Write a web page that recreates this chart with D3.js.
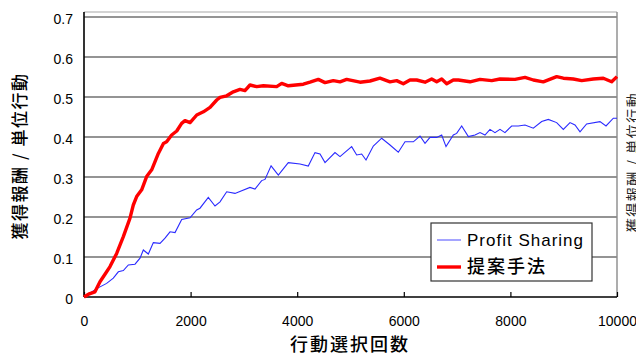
<!DOCTYPE html>
<meta charset="utf-8">
<style>
  body { margin: 0; background: #fff; }
  svg { display: block; }
  .tick text { font-family: "Liberation Sans", Arial, sans-serif; font-size: 14px; fill: #000; }
  .jp { font-family: "Noto Sans CJK JP", sans-serif; fill: #000; font-weight: 500; }
</style>
<body></body>
<script src="https://d3js.org/d3.v7.min.js"></script>
<script>

// Profit Sharing (blue)
var psX = [0,238,425,550,644,738,832,957,1051,1113,1207,1301,1426,1520,1614,1708,1833,1989,2114,2176,2332,2458,2552,2677,2833,3114,3208,3333,3396,3510,3646,3833,4053,4208,4334,4428,4522,4709,4803,5022,5116,5210,5291,5428,5585,5741,5897,6023,6179,6304,6398,6492,6617,6711,6792,6929,6992,7086,7211,7336,7430,7523,7617,7711,7805,7898,8023,8148,8274,8430,8587,8711,8868,8993,9118,9212,9306,9430,9681,9794,9931,10000];
var psY = [0,.021,.034,.047,.063,.066,.08,.082,.097,.1175,.1075,.136,.134,.147,.163,.161,.194,.198,.2175,.222,.249,.2275,.238,.263,.259,.274,.27,.291,.294,.328,.305,.336,.3325,.3275,.361,.3575,.336,.361,.351,.376,.355,.3575,.3425,.3775,.397,.38,.362,.388,.388,.4025,.384,.399,.399,.405,.376,.405,.409,.4275,.401,.405,.411,.405,.419,.411,.419,.411,.4275,.4275,.43,.422,.4385,.444,.436,.419,.436,.43,.413,.4325,.4385,.4275,.447,.447];

// 提案手法 (red)
var propX = [0,100,206,300,400,488,613,738,863,925,988,1082,1175,1270,1395,1490,1550,1645,1740,1832,1895,1990,2115,2240,2365,2490,2552,2677,2802,2927,3020,3114,3240,3365,3615,3709,3833,4115,4240,4396,4522,4678,4803,4928,5178,5366,5553,5741,5866,5991,6116,6241,6398,6523,6617,6711,6805,6929,7023,7242,7430,7649,7805,8086,8274,8430,8617,8868,8993,9180,9338,9555,9743,9900,10000];
var propY = [0,.008,.013,.038,.058,.076,.109,.151,.197,.23,.251,.268,.301,.318,.359,.384,.388,.405,.415,.434,.441,.436,.455,.463,.474,.4925,.499,.503,.513,.519,.516,.53,.526,.528,.526,.534,.528,.532,.537,.544,.536,.541,.538,.544,.537,.54,.547,.538,.541,.533,.5425,.5425,.537,.545,.538,.545,.533,.5425,.5425,.538,.544,.541,.545,.544,.549,.5425,.538,.551,.547,.545,.541,.545,.547,.538,.551];

var xTicks = [0, 2000, 4000, 6000, 8000, 10000];
var yTicks = [0, 0.1, 0.2, 0.3, 0.4, 0.5, 0.6, 0.7];
var seriesNames = ["Profit Sharing", "提案手法"];
var yTitle = "獲得報酬 / 単位行動";
var xTitle = "行動選択回数";

var W = 636, H = 356;
var margin = {top: 12, right: 19, bottom: 59, left: 84};
var w = W - margin.left - margin.right,
    h = H - margin.top - margin.bottom;

var svg = d3.select("body").append("svg")
    .attr("width", W)
    .attr("height", H);

var chart = svg.append("g")
    .attr("transform", "translate(" + margin.left + "," + margin.top + ")");

var x = d3.scaleLinear().domain([0, 10000]).range([0, w]);
var y = d3.scaleLinear().domain([0, 0.7125]).range([h, 0]);

// gridlines
chart.selectAll("line.grid")
    .data(yTicks.slice(1))
    .enter().append("line")
    .attr("class", "grid")
    .attr("x1", 0).attr("x2", w)
    .attr("y1", function(d) { return y(d); })
    .attr("y2", function(d) { return y(d); })
    .attr("stroke", "#707070")
    .attr("stroke-width", 1.6);

// frame: top light grey, right grey
chart.append("line").attr("x1", 0).attr("x2", w).attr("y1", 0).attr("y2", 0)
    .attr("stroke", "#c4c4c4").attr("stroke-width", 1.6);
chart.append("line").attr("x1", w).attr("x2", w).attr("y1", 0).attr("y2", h)
    .attr("stroke", "#8a8a8a").attr("stroke-width", 1.4);

var yaxis = d3.axisLeft(y).tickValues(yTicks).tickSize(0).tickPadding(11)
    .tickFormat(function(d) { return d === 0 ? "0" : d3.format(".1f")(d); });
var gy = chart.append("g").attr("class", "axis").call(yaxis);
gy.select(".domain").remove();
gy.selectAll(".tick text").attr("dy", "0.45em");

var xaxis = d3.axisTop(x).tickValues(xTicks).tickSize(5).tickFormat(d3.format("d"));
var gx = chart.append("g").attr("class", "axis")
    .attr("transform", "translate(0," + h + ")")
    .call(xaxis);
gx.select(".domain").remove();
gx.selectAll(".tick line").attr("stroke", "#000").attr("stroke-width", 1.2);
gx.selectAll(".tick text").attr("y", 29).attr("dy", 0);

// axis lines
chart.append("line").attr("x1", 0).attr("x2", 0).attr("y1", 0).attr("y2", h)
    .attr("stroke", "#000").attr("stroke-width", 1.6);
chart.append("line").attr("x1", 0).attr("x2", w).attr("y1", h).attr("y2", h)
    .attr("stroke", "#000").attr("stroke-width", 1.6);

var line = d3.line()
    .x(function(d) { return x(d[0]); })
    .y(function(d) { return y(d[1]); });

chart.append("path")
    .datum(d3.zip(psX, psY))
    .attr("d", line)
    .attr("fill", "none")
    .attr("stroke", "#2a2aff")
    .attr("stroke-width", 1.1);

chart.append("path")
    .datum(d3.zip(propX, propY))
    .attr("d", line)
    .attr("fill", "none")
    .attr("stroke", "#ff0000")
    .attr("stroke-width", 3.4)
    .attr("stroke-linejoin", "round");

// legend
var lg = svg.append("g").attr("transform", "translate(431,223)");
lg.append("rect").attr("width", 161).attr("height", 58)
    .attr("fill", "#fff").attr("stroke", "#333").attr("stroke-width", 1.2);
var lcolors = ["#6a6aff", "#ff0000"], lwidths = [1.2, 3.4];
seriesNames.forEach(function(name, i) {
  var cy = 17 + i * 27;
  lg.append("line").attr("x1", 6).attr("x2", 30).attr("y1", cy).attr("y2", cy)
    .attr("stroke", lcolors[i]).attr("stroke-width", lwidths[i]);
  lg.append("text")
    .attr("class", i === 0 ? "" : "jp")
    .attr("x", 36).attr("y", cy).attr("dy", "0.36em")
    .style("font-family", i === 0 ? "'Liberation Sans', Arial, sans-serif" : null)
    .style("font-size", i === 0 ? "17px" : "18px")
    .style("letter-spacing", i === 0 ? "1px" : "2px")
    .text(name);
});

// axis titles
svg.append("text").attr("class", "jp")
    .attr("transform", "translate(20,156) rotate(-90)")
    .attr("text-anchor", "middle").attr("dy", "0.36em")
    .style("font-size", "17px").style("letter-spacing", "1.5px")
    .text(yTitle);

svg.append("text").attr("class", "jp")
    .attr("x", 350).attr("y", 345)
    .attr("text-anchor", "middle").attr("dy", "0.36em")
    .style("font-size", "18px").style("letter-spacing", "2px")
    .text(xTitle);

// duplicate title at the right edge, partly outside the frame as in the reference
svg.append("text").attr("class", "jp")
    .attr("transform", "translate(633,162) rotate(-90)")
    .attr("text-anchor", "middle").attr("dy", "0.36em")
    .style("font-size", "14px").style("letter-spacing", "1.5px")
    .style("fill", "#222").style("font-weight", 400)
    .text(yTitle);

</script>
